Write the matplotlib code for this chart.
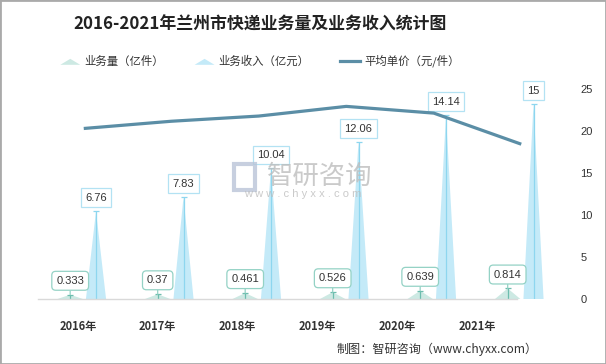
import matplotlib
matplotlib.use('Agg')
import matplotlib.pyplot as plt
from matplotlib.patches import Polygon, Rectangle, Patch
from matplotlib.legend_handler import HandlerPatch
from matplotlib.lines import Line2D

plt.rcParams['font.family'] = ['Noto Sans CJK SC', 'DejaVu Sans']

# ---- data ----
years = ['2016年', '2017年', '2018年', '2019年', '2020年', '2021年']
volume = [0.333, 0.37, 0.461, 0.526, 0.639, 0.814]      # 业务量（亿件）
revenue = [6.76, 7.83, 10.04, 12.06, 14.14, 15]          # 业务收入（亿元）
price = [20.30, 21.16, 21.78, 22.93, 22.13, 18.43]       # 平均单价（元/件）
right_ticks = [0, 5, 10, 15, 20, 25]

title = '2016-2021年兰州市快递业务量及业务收入统计图'
names = ['业务量（亿件）', '业务收入（亿元）', '平均单价（元/件）']
source = '制图：智研咨询（www.chyxx.com）'

# ---- styles ----
W, H = 606, 364
rev_fill = '#c4eaf8'
rev_line = '#8dd6ef'
rev_border = '#b3e2f3'
vol_fill = '#cde9e3'
vol_line = '#6dbdae'
vol_border = '#94d2c5'
price_color = '#5b8ea6'
text_dark = '#333333'
num_font = ['Liberation Sans', 'DejaVu Sans']

fig = plt.figure(figsize=(W / 100, H / 100), dpi=100)
fig.patch.set_facecolor('white')

ax = fig.add_axes([40 / W, 65 / H, 525 / W, 210 / H])
ax.set_xlim(-0.5, len(years) - 0.5)
ax.set_ylim(0, 210 / 13.0)
ax.axis('off')

ax2 = ax.twinx()
ax2.set_ylim(0, 25)
ax2.set_xlim(-0.5, len(years) - 0.5)
for s in ax2.spines.values():
    s.set_visible(False)
ax2.set_yticks(right_ticks)
ax2.set_yticklabels([str(t) for t in right_ticks], fontsize=8, color=text_dark, family=num_font)
ax2.tick_params(axis='y', length=0, pad=11)
ax2.tick_params(axis='x', bottom=False, labelbottom=False)
ax2.patch.set_alpha(0)

# bottom category axis (separate, as in the reference)
axb = fig.add_axes([38 / W, 65 / H, 479 / W, 0.0001])
axb.set_xlim(0, len(years))
axb.set_xticks([i + 0.5 for i in range(len(years))])
axb.set_xticklabels(years, fontsize=8, fontweight='bold', color=text_dark)
axb.tick_params(axis='x', length=0, pad=15)
axb.set_yticks([])
for k in ['top', 'left', 'right']:
    axb.spines[k].set_visible(False)
axb.spines['bottom'].set_color('#d9d9d9')
axb.spines['bottom'].set_linewidth(1)
axb.patch.set_alpha(0)

vol_off, rev_off = -0.155, 0.14
vol_w, rev_w = 0.29, 0.23

for i, (v, r) in enumerate(zip(volume, revenue)):
    xv = i + vol_off
    xr = i + rev_off
    # volume small triangle
    ax.add_patch(Polygon([(xv - vol_w / 2, 0), (xv + vol_w / 2, 0), (xv, v)],
                         closed=True, facecolor=vol_fill, edgecolor='none', zorder=2))
    ax.vlines(xv, 0, v, color=vol_line, lw=0.9, zorder=3)
    ax.plot([xv], [v], marker='_', ms=5, mew=0.9, color=vol_line, zorder=3)
    ax.annotate(f'{v:g}', xy=(xv, v), xytext=(0, 10), textcoords='offset points',
                ha='center', va='center', fontsize=8, color=text_dark, family=num_font,
                bbox=dict(boxstyle='round,pad=0.4,rounding_size=0.35', fc='white',
                          ec=vol_border, lw=0.9),
                arrowprops=dict(arrowstyle='-', color=vol_border, lw=0.9,
                                shrinkA=0, shrinkB=0), zorder=6)
    # revenue spike
    ax.add_patch(Polygon([(xr - rev_w / 2, 0), (xr + rev_w / 2, 0), (xr, r)],
                         closed=True, facecolor=rev_fill, edgecolor='none', zorder=2))
    ax.vlines(xr, 0, r, color=rev_line, lw=0.9, zorder=3)
    ax.plot([xr], [r], marker='_', ms=5, mew=0.9, color=rev_line, zorder=3)
    ax.annotate(f'{r:g}', xy=(xr, r), xytext=(0, 9.7), textcoords='offset points',
                ha='center', va='center', fontsize=8, color=text_dark, family=num_font,
                bbox=dict(boxstyle='square,pad=0.4', fc='white', ec=rev_border, lw=0.9),
                zorder=6)

# price line
ax2.plot(range(len(years)), price, color=price_color, lw=2.3, solid_capstyle='butt', zorder=5)

# watermark
fig.text(320 / W, 1 - 176 / H, '智研咨询', fontsize=19, color='#bdbdbd', alpha=0.8,
         ha='center', va='center', zorder=0)
fig.text(303 / W, 1 - 194 / H, 'w w w . c h y x x . c o m', fontsize=8, color='#bdbdbd',
         alpha=0.8, ha='center', va='center', family=num_font)
fig.patches.append(Rectangle((234 / W, 1 - 190 / H), 21 / W, 26 / H, transform=fig.transFigure,
                             facecolor='none', edgecolor='#b9c4d8', lw=3, alpha=0.8))

# title
fig.text(260 / W, 1 - 25 / H, title, fontsize=12.2, fontweight='bold', color='#222222',
         ha='center', va='center')

# legend
def tri_func(legend, orig_handle, xdescent, ydescent, width, height, fontsize):
    return Polygon([(-xdescent, -ydescent), (-xdescent + width, -ydescent),
                    (-xdescent + width / 2, -ydescent + height * 0.75)], closed=True)

h1 = Patch(facecolor=vol_fill, edgecolor='none')
h2 = Patch(facecolor=rev_fill, edgecolor='none')
h3 = Line2D([], [], color=price_color, lw=2.3)
leg = fig.legend([h1, h2, h3], names, loc='center', bbox_to_anchor=(260 / W, 1 - 61 / H),
                 ncol=3, frameon=False, fontsize=8.2, handlelength=1.75, handletextpad=0.35,
                 columnspacing=2.7, handler_map={h1: HandlerPatch(patch_func=tri_func),
                                                 h2: HandlerPatch(patch_func=tri_func)})
for t in leg.get_texts():
    t.set_color(text_dark)

# source
fig.text(538 / W, 1 - 349 / H, source, fontsize=8.7, color=text_dark, ha='right', va='center')

# border
fig.patches.append(Rectangle((0, 0), 1, 1, transform=fig.transFigure, fill=False,
                             edgecolor='#aaaaaa', lw=2))

fig.savefig('out.png', dpi=100)
